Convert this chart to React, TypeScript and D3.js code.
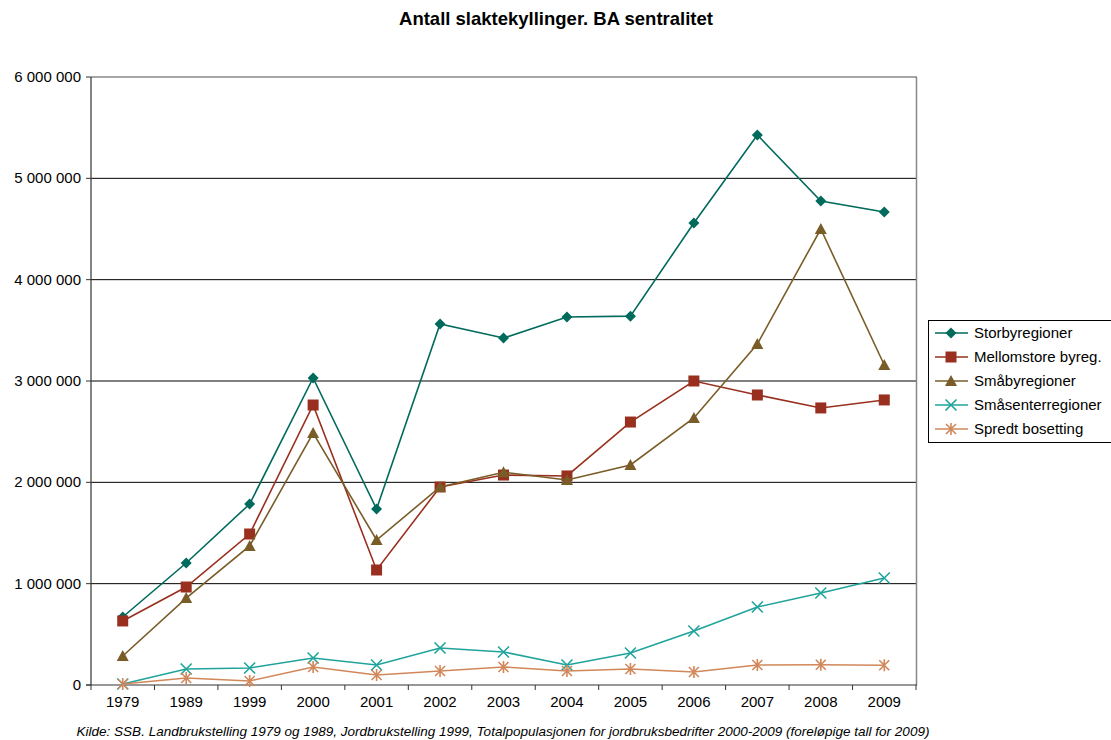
import React from "react";
import * as d3 from "d3";

const years = ["1979","1989","1999","2000","2001","2002","2003","2004","2005","2006","2007","2008","2009"];
const storby = [671000,1204000,1786000,3030000,1737000,3563000,3424000,3632000,3640000,4559000,5428000,4776000,4668000];
const mellomstore = [632000,967000,1490000,2763000,1135000,1954000,2072000,2063000,2595000,3000000,2862000,2734000,2813000];
const smaaby = [286000,858000,1372000,2487000,1431000,1954000,2100000,2023000,2171000,2635000,3365000,4500000,3158000];
const smaasenter = [10000,158000,168000,266000,197000,365000,326000,197000,316000,533000,770000,908000,1056000];
const spredt = [10000,69000,40000,178000,99000,138000,178000,138000,158000,128000,197000,200000,195000];
const yTicks = [0,1000000,2000000,3000000,4000000,5000000,6000000];

const seriesNames = ["Storbyregioner","Mellomstore byreg.","Småbyregioner","Småsenterregioner","Spredt bosetting"];
const seriesValues = [storby, mellomstore, smaaby, smaasenter, spredt];
const seriesColors = ["#006a5c","#99301f","#7a5c28","#1fa39b","#d1875a"];
const seriesMarkers = ["diamond","square","triangle","x","star"];

const W = 1111, H = 740;
const L = 91, R = 916, T = 77, B = 685;

function Marker({ type, x, y, color }: { type: string; x: number; y: number; color: string }) {
  if (type === "diamond") {
    const s = 5.5;
    return <path d={`M${x},${y - s}L${x + s},${y}L${x},${y + s}L${x - s},${y}Z`} fill={color} />;
  }
  if (type === "square") {
    const s = 5.5;
    return <rect x={x - s} y={y - s} width={2 * s} height={2 * s} fill={color} />;
  }
  if (type === "triangle") {
    const s = 6;
    return <path d={`M${x},${y - s}L${x + s},${y + s - 1}L${x - s},${y + s - 1}Z`} fill={color} />;
  }
  if (type === "x") {
    const s = 5.5;
    return <path d={`M${x - s},${y - s}L${x + s},${y + s}M${x - s},${y + s}L${x + s},${y - s}`} stroke={color} strokeWidth={1.6} />;
  }
  const s = 5;
  return <path d={`M${x - s},${y - s}L${x + s},${y + s}M${x - s},${y + s}L${x + s},${y - s}M${x},${y - s - 1}L${x},${y + s + 1}`} stroke={color} strokeWidth={1.6} />;
}

export default function App() {
  const x = d3.scaleBand<string>().domain(years).range([L, R]);
  const y = d3.scaleLinear().domain([0, 6000000]).range([B, T]);
  const fmt = (v: number) => d3.format(",")(v).replace(/,/g, " ");
  const line = d3.line<number>().x((_, i) => (x(years[i]) as number) + x.bandwidth() / 2).y((v) => y(v));
  const font = "'Liberation Sans', Arial, sans-serif";

  return (
    <svg width={W} height={H} style={{ position: "absolute", left: 0, top: 0, background: "#fff" }} fontFamily={font}>
      <text x={556} y={25} textAnchor="middle" fontSize={18.5} fontWeight="bold" fill="#000">Antall slaktekyllinger. BA sentralitet</text>
      {yTicks.map((t) => (
        <g key={t}>
          {t > 0 && t < 6000000 && <line x1={L} x2={R} y1={y(t)} y2={y(t)} stroke="#000" strokeWidth={1} />}
          <line x1={L - 5} x2={L} y1={y(t)} y2={y(t)} stroke="#333" />
          <text x={L - 10} y={y(t) + 5} textAnchor="end" fontSize={15} fill="#000">{fmt(t)}</text>
        </g>
      ))}
      <line x1={L} x2={R + 1} y1={T} y2={T} stroke="#888" strokeWidth={1.5} />
      <line x1={R + 0.5} x2={R + 0.5} y1={T} y2={B} stroke="#888" strokeWidth={1.5} />
      <line x1={L} x2={L} y1={T} y2={B} stroke="#333" strokeWidth={1.2} />
      <line x1={L - 5} x2={R + 1} y1={B} y2={B} stroke="#333" strokeWidth={1.2} />
      {years.map((yr, i) => (
        <g key={yr}>
          <line x1={(x(yr) as number)} x2={(x(yr) as number)} y1={B} y2={B + 5} stroke="#333" />
          {i === years.length - 1 && <line x1={R} x2={R} y1={B} y2={B + 5} stroke="#333" />}
          <text x={(x(yr) as number) + x.bandwidth() / 2} y={B + 22} textAnchor="middle" fontSize={15} fill="#000">{yr}</text>
        </g>
      ))}
      {seriesValues.map((vals, si) => (
        <g key={si}>
          <path d={line(vals) || ""} fill="none" stroke={seriesColors[si]} strokeWidth={1.6} />
          {vals.map((v, i) => (
            <Marker key={i} type={seriesMarkers[si]} x={(x(years[i]) as number) + x.bandwidth() / 2} y={y(v)} color={seriesColors[si]} />
          ))}
        </g>
      ))}
      <rect x={928.5} y={320.5} width={184} height={122} fill="#fff" stroke="#000" strokeWidth={1} />
      {seriesNames.map((n, i) => {
        const ly = 333 + i * 24;
        return (
          <g key={n}>
            <line x1={935} x2={968} y1={ly} y2={ly} stroke={seriesColors[i]} strokeWidth={1.6} />
            <Marker type={seriesMarkers[i]} x={951} y={ly} color={seriesColors[i]} />
            <text x={974} y={ly + 5} fontSize={15} fill="#000">{n}</text>
          </g>
        );
      })}
      <text x={503} y={736} textAnchor="middle" fontSize={13.5} fontStyle="italic" fill="#000">Kilde: SSB. Landbrukstelling 1979 og 1989, Jordbrukstelling 1999, Totalpopulasjonen for jordbruksbedrifter 2000-2009 (foreløpige tall for 2009)</text>
    </svg>
  );
}
